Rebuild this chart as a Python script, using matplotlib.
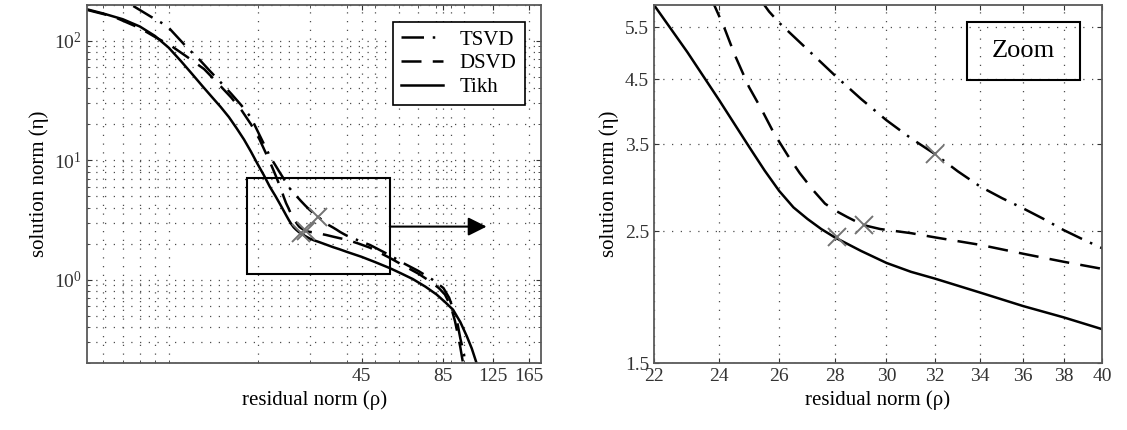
import matplotlib
matplotlib.use('Agg')
import matplotlib.pyplot as plt
import numpy as np
from matplotlib.patches import Rectangle
from matplotlib.ticker import LogLocator, NullLocator, NullFormatter

plt.rcParams['font.family'] = ['Liberation Serif', 'DejaVu Serif']
plt.rcParams['mathtext.fontset'] = 'custom'
plt.rcParams['mathtext.rm'] = 'Liberation Serif'
plt.rcParams['mathtext.it'] = 'Liberation Serif:italic'

# L-curves: residual norm (rho) vs solution norm (eta)
tikh_rho = [5.3, 6.0, 7.0, 8.0, 9.0, 10.0, 11.0, 12.0, 13.0, 14.0, 15.0, 16.0, 17.0, 18.0, 19.0,
            20.0, 21.0, 22.0, 23.0, 24.0, 25.0, 25.5, 26.0, 26.5, 27.0, 27.5, 28.0, 29.0, 30.0,
            31.0, 32.0, 34.0, 36.0, 38.0, 40.0, 45.0, 50.0, 55.9, 61.0, 67.0, 74.0, 80.6, 86.0,
            91.6, 97.0, 102.0, 106.0, 110.0]
tikh_eta = [184, 170, 152, 132, 110, 88, 68, 53, 42, 34, 28, 23, 18.5, 14.9, 11.8,
            9.3, 7.5, 6.0, 5.0, 4.15, 3.45, 3.16, 2.92, 2.74, 2.62, 2.52, 2.44, 2.315, 2.21,
            2.135, 2.08, 1.97, 1.87, 1.79, 1.71, 1.55, 1.40, 1.25, 1.13, 1.01, 0.87, 0.75, 0.65,
            0.56, 0.44, 0.335, 0.265, 0.2]

dsvd_rho = [5.3, 6.5, 8.0, 9.0, 10.2, 11.6, 13.2, 14.7, 16.3, 17.7, 19.0, 20.3, 21.5, 22.3,
            23.0, 23.84, 24.16, 24.5, 24.97, 25.4, 25.82, 26.3, 26.72, 27.2, 27.64, 28.0, 28.47,
            29.07, 29.75, 31.0, 32.0, 34.0, 36.0, 38.0, 40.0, 44.0, 48.0, 56.0, 62.0, 70.0, 76.0,
            82.0, 86.0, 90.0, 93.0, 95.0, 97.0, 99.0]
dsvd_eta = [182, 160, 128, 108, 91, 73, 58, 44, 33.5, 26, 20, 15, 11, 9.0,
            7.5, 6.0, 5.5, 4.95, 4.37, 4.0, 3.65, 3.35, 3.13, 2.93, 2.78, 2.71, 2.64,
            2.56, 2.52, 2.48, 2.44, 2.37, 2.29, 2.22, 2.16, 2.0, 1.85, 1.52, 1.32, 1.12, 0.98,
            0.85, 0.75, 0.6, 0.45, 0.35, 0.27, 0.2]

tsvd_rho = [7.6, 8.7, 9.9, 10.7, 11.6, 12.7, 13.8, 15.0, 16.3, 17.6, 19.0, 20.5, 22.1, 22.9,
            23.7, 24.7, 25.65, 26.0, 27.0, 28.0, 29.0, 30.0, 31.0, 32.0, 33.0, 34.0, 35.0, 36.0,
            37.0, 38.0, 39.0, 40.0, 44.0, 48.0, 56.0, 62.0, 70.0, 78.0, 85.0, 89.0, 92.0, 95.0,
            97.0, 99.0, 101.0]
tsvd_eta = [196, 160, 133, 108, 87, 70, 56, 45, 36, 29, 22.8, 15.5, 10.6, 9.2,
            8.0, 6.8, 5.85, 5.6, 5.05, 4.57, 4.17, 3.84, 3.58, 3.37, 3.15, 2.97, 2.84, 2.73,
            2.62, 2.51, 2.42, 2.34, 2.12, 1.95, 1.6, 1.38, 1.18, 1.0, 0.85, 0.7, 0.55, 0.42,
            0.32, 0.26, 0.2]

# chosen corner points
corner_rho = [28.1, 29.1, 32.0]
corner_eta = [2.44, 2.56, 3.37]

x_ticks_left = [45, 85, 125, 165]
x_ticks_right = [22, 24, 26, 28, 30, 32, 34, 36, 38, 40]
y_ticks_right = [1.5, 2.5, 3.5, 4.5, 5.5]

tsvd_style = (0, (9, 3.5, 1, 3.5))
dsvd_style = (0, (8, 4.5))
lw = 1.8

fig = plt.figure(figsize=(11.27, 4.30), dpi=100)
ax1 = fig.add_axes([0.0772, 0.1558, 0.403, 0.8326])
ax2 = fig.add_axes([0.5803, 0.1558, 0.3976, 0.8326])

for ax in (ax1, ax2):
    ax.plot(tsvd_rho, tsvd_eta, color='k', lw=lw, linestyle=tsvd_style, label='TSVD')
    ax.plot(dsvd_rho, dsvd_eta, color='k', lw=lw, linestyle=dsvd_style, label='DSVD')
    ax.plot(tikh_rho, tikh_eta, color='k', lw=lw, linestyle='-', label='Tikh')
    ax.plot(corner_rho, corner_eta, linestyle='none', marker='x', markersize=13,
            markeredgewidth=1.4, color='0.45')
    ax.set_xscale('log')
    ax.set_yscale('log')
    ax.set_xlabel('residual norm (ρ)', fontsize=15)
    ax.set_ylabel('solution norm (η)', fontsize=15)
    ax.tick_params(which='both', direction='in', top=True, right=True,
                   labelsize=14, colors='0.2')
    for s in ax.spines.values():
        s.set_color('0.35')
        s.set_linewidth(1.3)

# left panel
ax1.set_xlim(5.3, 182)
ax1.set_ylim(0.2, 200)
ax1.set_xticks(x_ticks_left)
ax1.set_xticklabels([str(t) for t in x_ticks_left])
ax1.xaxis.set_minor_locator(LogLocator(subs=np.arange(1, 10)))
ax1.xaxis.set_minor_formatter(NullFormatter())
ax1.yaxis.set_minor_locator(LogLocator(subs=np.arange(2, 10)))
ax1.yaxis.set_minor_formatter(NullFormatter())
ax1.grid(True, which='both', linestyle=(0, (1, 6)), color='0.3', linewidth=0.9)

ax1.add_patch(Rectangle((18.4, 1.12), 56 - 18.4, 7.1 - 1.12, fill=False,
                        edgecolor='k', linewidth=1.5, zorder=5))
ax1.annotate('', xy=(119, 2.78), xytext=(56, 2.78),
             arrowprops=dict(arrowstyle='-|>', mutation_scale=28, color='k', lw=1.5,
                             shrinkA=0, shrinkB=0))

leg = ax1.legend(loc='upper right', fontsize=15, fancybox=False, framealpha=1,
                 edgecolor='k', handlelength=2.0, borderaxespad=0.8, labelspacing=0.2)
leg.get_frame().set_linewidth(1.2)

# right panel (zoom)
ax2.set_xlim(22, 40)
ax2.set_ylim(1.5, 6.0)
ax2.xaxis.set_minor_locator(NullLocator())
ax2.yaxis.set_minor_locator(NullLocator())
ax2.set_xticks(x_ticks_right)
ax2.set_xticklabels([str(t) for t in x_ticks_right])
ax2.set_yticks(y_ticks_right)
ax2.set_yticklabels([str(t) for t in y_ticks_right])
ax2.grid(True, which='major', linestyle=(0, (1, 6)), color='0.3', linewidth=0.9)

ax2.add_patch(Rectangle((0.699, 0.7905), 0.252, 0.162, transform=ax2.transAxes,
                        fill=False, edgecolor='k', linewidth=1.5, zorder=5))
ax2.text(0.825, 0.871, 'Zoom', transform=ax2.transAxes, ha='center', va='center',
         fontsize=19)

fig.savefig('out.png', dpi=100)
